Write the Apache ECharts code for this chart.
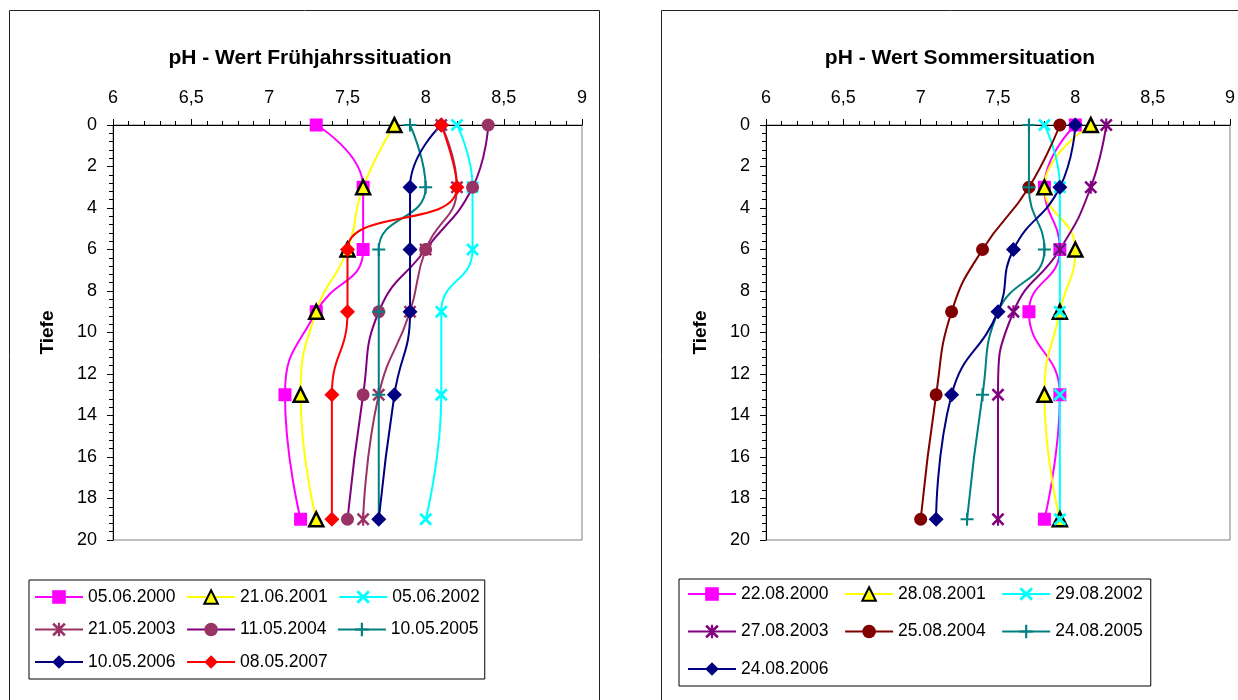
<!DOCTYPE html>
<html><head><meta charset="utf-8">
<script src="https://cdn.jsdelivr.net/npm/echarts@6/dist/echarts.min.js"></script>
<style>html,body{margin:0;padding:0;background:#fff}#c{width:1238px;height:700px}</style>
</head><body><div id="c"></div><script>
// ---- data ----
const depths = [0, 3, 6, 9, 13, 19];
const xTickLabels = ['6', '6,5', '7', '7,5', '8', '8,5', '9'];
const yTickLabels = ['0', '2', '4', '6', '8', '10', '12', '14', '16', '18', '20'];

const springTitle = 'pH - Wert Frühjahrssituation';
const summerTitle = 'pH - Wert Sommersituation';
const yName = 'Tiefe';

const springNames = ['05.06.2000', '21.06.2001', '05.06.2002', '21.05.2003', '11.05.2004', '10.05.2005', '10.05.2006', '08.05.2007'];
const spring2000 = [7.3, 7.6, 7.6, 7.3, 7.1, 7.2];
const spring2001 = [7.8, 7.6, 7.5, 7.3, 7.2, 7.3];
const spring2002 = [8.2, 8.3, 8.3, 8.1, 8.1, 8.0];
const spring2003 = [8.1, 8.2, 8.0, 7.9, 7.7, 7.6];
const spring2004 = [8.4, 8.3, 8.0, 7.7, 7.6, 7.5];
const spring2005 = [7.9, 8.0, 7.7, 7.7, 7.7, 7.7];
const spring2006 = [8.1, 7.9, 7.9, 7.9, 7.8, 7.7];
const spring2007 = [8.1, 8.2, 7.5, 7.5, 7.4, 7.4];

const summerNames = ['22.08.2000', '28.08.2001', '29.08.2002', '27.08.2003', '25.08.2004', '24.08.2005', '24.08.2006'];
const summer2000 = [8.0, 7.8, 7.9, 7.7, 7.9, 7.8];
const summer2001 = [8.1, 7.8, 8.0, 7.9, 7.8, 7.9];
const summer2002 = [7.8, 7.9, 7.9, 7.9, 7.9, 7.9];
const summer2003 = [8.2, 8.1, 7.9, 7.6, 7.5, 7.5];
const summer2004 = [7.9, 7.7, 7.4, 7.2, 7.1, 7.0];
const summer2005 = [7.7, 7.7, 7.8, 7.5, 7.4, 7.3];
const summer2006 = [8.0, 7.9, 7.6, 7.5, 7.2, 7.1];

// ---- styles ----
const FONT = 'Liberation Sans';
const SYM = {
  square: 'rect',
  triangle: 'triangle',
  cross: 'path://M0,1.5L1.5,0L5,3.5L8.5,0L10,1.5L6.5,5L10,8.5L8.5,10L5,6.5L1.5,10L0,8.5L3.5,5Z',
  star: 'path://M0,1.4L1.4,0L5,3.6L8.6,0L10,1.4L6.4,5L10,8.6L8.6,10L5,6.4L1.4,10L0,8.6L3.6,5Z M4.2,0L5.8,0L5.8,10L4.2,10Z',
  circle: 'circle',
  plus: 'path://M4.2,0L5.8,0L5.8,4.2L10,4.2L10,5.8L5.8,5.8L5.8,10L4.2,10L4.2,5.8L0,5.8L0,4.2L4.2,4.2Z',
  diamond: 'diamond'
};
const SIZE = { square: 13, triangle: 14, cross: 13, star: 13, circle: 13, plus: 13, diamond: 15 };

function mk(name, vals, gi, sym, lineColor, markColor) {
  const isTri = sym === 'triangle';
  return {
    type: 'line', name: name, xAxisIndex: gi, yAxisIndex: gi,
    data: vals.map((v, i) => [v, depths[i]]),
    smooth: 0.5,
    symbol: SYM[sym], symbolSize: SIZE[sym], showSymbol: true,
    lineStyle: { color: lineColor, width: 2 },
    itemStyle: isTri ? { color: '#FFFF00', borderColor: '#000000', borderWidth: 2.5 }
      : { color: markColor, borderWidth: 0 },
    emphasis: { disabled: true },
    z: 2
  };
}

const series = [
  mk(springNames[0], spring2000, 0, 'square', '#FF00FF', '#FF00FF'),
  mk(springNames[1], spring2001, 0, 'triangle', '#FFFF00', '#FFFF00'),
  mk(springNames[2], spring2002, 0, 'cross', '#00FFFF', '#00FFFF'),
  mk(springNames[3], spring2003, 0, 'star', '#993366', '#993366'),
  mk(springNames[4], spring2004, 0, 'circle', '#800080', '#993366'),
  mk(springNames[5], spring2005, 0, 'plus', '#008080', '#008080'),
  mk(springNames[6], spring2006, 0, 'diamond', '#000080', '#000080'),
  mk(springNames[7], spring2007, 0, 'diamond', '#FF0000', '#FF0000'),
  mk(summerNames[0], summer2000, 1, 'square', '#FF00FF', '#FF00FF'),
  mk(summerNames[1], summer2001, 1, 'triangle', '#FFFF00', '#FFFF00'),
  mk(summerNames[2], summer2002, 1, 'cross', '#00FFFF', '#00FFFF'),
  mk(summerNames[3], summer2003, 1, 'star', '#800080', '#800080'),
  mk(summerNames[4], summer2004, 1, 'circle', '#800000', '#800000'),
  mk(summerNames[5], summer2005, 1, 'plus', '#008080', '#008080'),
  mk(summerNames[6], summer2006, 1, 'diamond', '#000080', '#000080')
];

function xAx(gi) {
  return {
    type: 'value', gridIndex: gi, position: 'top', min: 6, max: 9, interval: 0.5,
    axisLine: { show: true, onZero: false, lineStyle: { color: '#000', width: 1 } },
    axisTick: { show: true, inside: false, length: 6, lineStyle: { color: '#000' } },
    minorTick: { show: true, splitNumber: 5, length: 4, lineStyle: { color: '#000' } },
    splitLine: { show: false }, minorSplitLine: { show: false },
    axisLabel: { margin: 18, color: '#000', fontFamily: FONT, fontSize: 18,
      formatter: v => xTickLabels[Math.round((v - 6) / 0.5)] }
  };
}
function yAx(gi) {
  return {
    type: 'value', gridIndex: gi, position: 'left', inverse: true, min: 0, max: 20, interval: 2,
    name: yName, nameLocation: 'middle', nameRotate: 90, nameGap: 56,
    nameTextStyle: { color: '#000', fontFamily: FONT, fontSize: 19, fontWeight: 'bold' },
    axisLine: { show: true, onZero: false, lineStyle: { color: '#000', width: 1 } },
    axisTick: { show: true, inside: false, length: 6, lineStyle: { color: '#000' } },
    minorTick: { show: true, splitNumber: 5, length: 4, lineStyle: { color: '#000' } },
    splitLine: { show: false }, minorSplitLine: { show: false },
    axisLabel: { margin: 16, color: '#000', fontFamily: FONT, fontSize: 18,
      formatter: v => yTickLabels[Math.round(v / 2)] }
  };
}

function legendFor(names, left, top, gap, pad) {
  return {
    data: names, left: left, top: top, width: 470, orient: 'horizontal',
    itemWidth: 48, itemHeight: 17, itemGap: gap, padding: pad,
    borderColor: '#000', borderWidth: 1, backgroundColor: '#fff',
    textStyle: { color: '#000', fontFamily: FONT, fontSize: 17.5, lineHeight: 22 },
    selectedMode: false
  };
}

const option = {
  animation: false,
  backgroundColor: '#ffffff',
  title: [
    { text: springTitle, left: 310, top: 48, textAlign: 'center', padding: 0,
      textStyle: { color: '#000', fontFamily: FONT, fontSize: 21, fontWeight: 'bold' } },
    { text: summerTitle, left: 960, top: 48, textAlign: 'center', padding: 0,
      textStyle: { color: '#000', fontFamily: FONT, fontSize: 21, fontWeight: 'bold' } }
  ],
  grid: [
    { left: 113, top: 125, width: 469, height: 415, show: true, borderColor: '#808080', borderWidth: 1, backgroundColor: 'transparent' },
    { left: 766, top: 125, width: 468, height: 415, show: true, borderColor: '#808080', borderWidth: 1, backgroundColor: 'transparent' }
  ],
  xAxis: [xAx(0), xAx(1)],
  yAxis: [yAx(0), yAx(1)],
  legend: [
    legendFor(springNames, 29, 580, 10.5, [6, 5, 6, 5]),
    legendFor(summerNames, 679, 579, 15.5, [4, 8, 6, 8])
  ],
  graphic: [
    { type: 'rect', shape: { x: 9.5, y: 10.5, width: 590, height: 720 }, style: { fill: 'none', stroke: '#222', lineWidth: 1 }, z: -10, silent: true },
    { type: 'rect', shape: { x: 661.5, y: 10.5, width: 600, height: 720 }, style: { fill: 'none', stroke: '#222', lineWidth: 1 }, z: -10, silent: true }
  ],
  series: series
};

const chart = echarts.init(document.getElementById('c'), null, { renderer: 'canvas' });
chart.setOption(option);
</script></body></html>
